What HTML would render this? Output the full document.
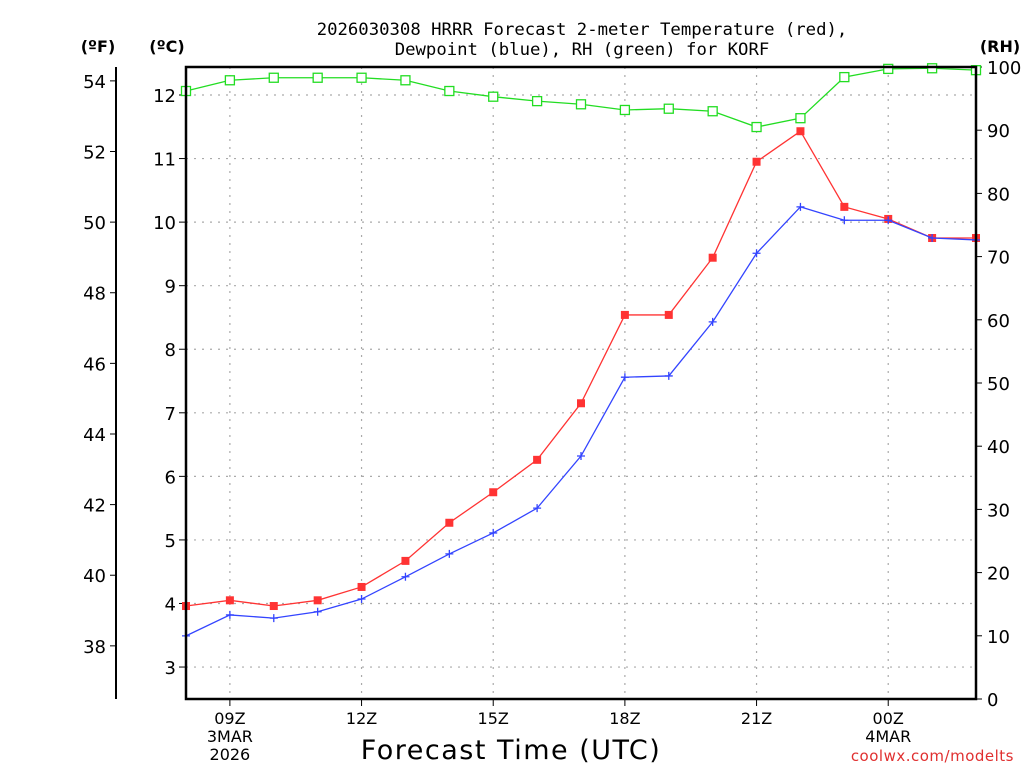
<!DOCTYPE html>
<html><head><meta charset="utf-8"><style>
body{margin:0;background:#fff;width:1024px;height:768px;overflow:hidden}
svg text{font-family:"DejaVu Sans","Liberation Sans",sans-serif}
</style></head><body>
<svg id="chart" width="1024" height="768" xmlns="http://www.w3.org/2000/svg">
<text x="582" y="35" text-anchor="middle" font-size="17.3" style="font-family:'DejaVu Sans Mono','Liberation Mono',monospace" fill="#000">2026030308 HRRR Forecast 2-meter Temperature (red),</text>
<text x="582" y="55" text-anchor="middle" font-size="17.3" style="font-family:'DejaVu Sans Mono','Liberation Mono',monospace" fill="#000">Dewpoint (blue), RH (green) for KORF</text>
<text x="98" y="52" text-anchor="middle" font-size="16" font-weight="bold">(ºF)</text>
<text x="167" y="52" text-anchor="middle" font-size="16" font-weight="bold">(ºC)</text>
<text x="1000" y="52" text-anchor="middle" font-size="16" font-weight="bold">(RH)</text>
<text x="511" y="759" text-anchor="middle" font-size="27" letter-spacing="1.5">Forecast Time (UTC)</text>
<text x="1014" y="761" text-anchor="end" font-size="15" fill="#e03030" letter-spacing="0.5">coolwx.com/modelts</text>
<g id="g"></g>
</svg>
<script>
const hours=[8,9,10,11,12,13,14,15,16,17,18,19,20,21,22,23,24,25,26];
const tempC=[3.96,4.05,3.96,4.05,4.26,4.67,5.27,5.75,6.26,7.15,8.54,8.54,9.44,10.95,11.43,10.24,10.05,9.75,9.75];
const dewC=[3.49,3.82,3.77,3.87,4.07,4.42,4.78,5.11,5.50,6.32,7.56,7.58,8.43,9.51,10.24,10.03,10.03,9.75,9.72];
const rh=[96.2,97.9,98.3,98.3,98.3,97.9,96.2,95.3,94.6,94.1,93.2,93.4,93.0,90.5,91.9,98.4,99.7,99.8,99.5];
const cTicks=[3,4,5,6,7,8,9,10,11,12];
const fTicks=[38,40,42,44,46,48,50,52,54];
const rhTicks=[0,10,20,30,40,50,60,70,80,90,100];
const xTickHours=[9,12,15,18,21,24];
const xTickLabels=["09Z","12Z","15Z","18Z","21Z","00Z"];
const xTickSub=[["3MAR","2026"],[],[],[],[],["4MAR"]];

const L=186,R=976,T=67,B=699;
const xs=h=>L+(h-8)*(R-L)/18;
const yc=c=>95+(12-c)*63.56;
const yf=f=>yc((f-32)/1.8);
const yr=r=>B-r*(B-T)/100;
const NS="http://www.w3.org/2000/svg";
const g=document.getElementById('g');
function el(t,a,txt){const e=document.createElementNS(NS,t);for(const k in a)e.setAttribute(k,a[k]);if(txt!==undefined)e.textContent=txt;g.appendChild(e);return e;}

cTicks.forEach(c=>{
 const l=el('line',{x1:L,x2:R,y1:yc(c),y2:yc(c),stroke:'#aaa','stroke-width':1.2,'stroke-dasharray':'2 6'});
 
 
 el('line',{x1:L-7,x2:L,y1:yc(c),y2:yc(c),stroke:'#000','stroke-width':1});
 const t=el('text',{x:L-10,y:yc(c)+7,'text-anchor':'end','font-size':18},String(c));
 
 
});
xTickHours.forEach((h,i)=>{
 const l=el('line',{x1:xs(h),x2:xs(h),y1:T,y2:B,stroke:'#aaa','stroke-width':1.2,'stroke-dasharray':'2 6'});
 
 
 el('line',{x1:xs(h),x2:xs(h),y1:B,y2:B+7,stroke:'#000','stroke-width':1});
 const t=el('text',{x:xs(h),y:724,'text-anchor':'middle','font-size':16},xTickLabels[i]);
 
 
 xTickSub[i].forEach((s,j)=>{const u=el('text',{x:xs(h),y:742+j*18,'text-anchor':'middle','font-size':16},s);
  
  });
});
const fa=el('line',{x1:116,x2:116,y1:T,y2:B,stroke:'#000','stroke-width':2});


fTicks.forEach(f=>{
 el('line',{x1:110,x2:116,y1:yf(f),y2:yf(f),stroke:'#000','stroke-width':1});
 const t=el('text',{x:106,y:yf(f)+7,'text-anchor':'end','font-size':18},String(f));
 
 
});
rhTicks.forEach(r=>{
 el('line',{x1:R,x2:R+6,y1:yr(r),y2:yr(r),stroke:'#000','stroke-width':1});
 const t=el('text',{x:R+11,y:yr(r)+7,'font-size':18},String(r));
 
 
});
function series(vals,yfn,color,name,marker){
 const pts=vals.map((v,i)=>[xs(hours[i]),yfn(v)]);
 const p=el('polyline',{points:pts.map(p=>p.join(',')).join(' '),fill:'none',stroke:color,'stroke-width':1.3});
 
 
 pts.forEach(([x,y])=>{
  let m;
  if(marker==='fill')m=el('rect',{x:x-4,y:y-4,width:8,height:8,fill:color});
  else if(marker==='open')m=el('rect',{x:x-4.5,y:y-4.5,width:9,height:9,fill:'#fff',stroke:color,'stroke-width':1.3});
  else m=el('path',{d:`M${x-4},${y}H${x+4}M${x},${y-4}V${y+4}`,stroke:color,'stroke-width':1.3});
  
  
 });
}
series(rh,yr,'#22dd22','rh','open');
series(tempC,yc,'#ff3333','temperature','fill');
series(dewC,yc,'#3344ff','dewpoint','plus');
const box=el('rect',{x:L,y:T,width:R-L,height:B-T,fill:'none',stroke:'#000','stroke-width':2.5});


</script>
</body></html>
